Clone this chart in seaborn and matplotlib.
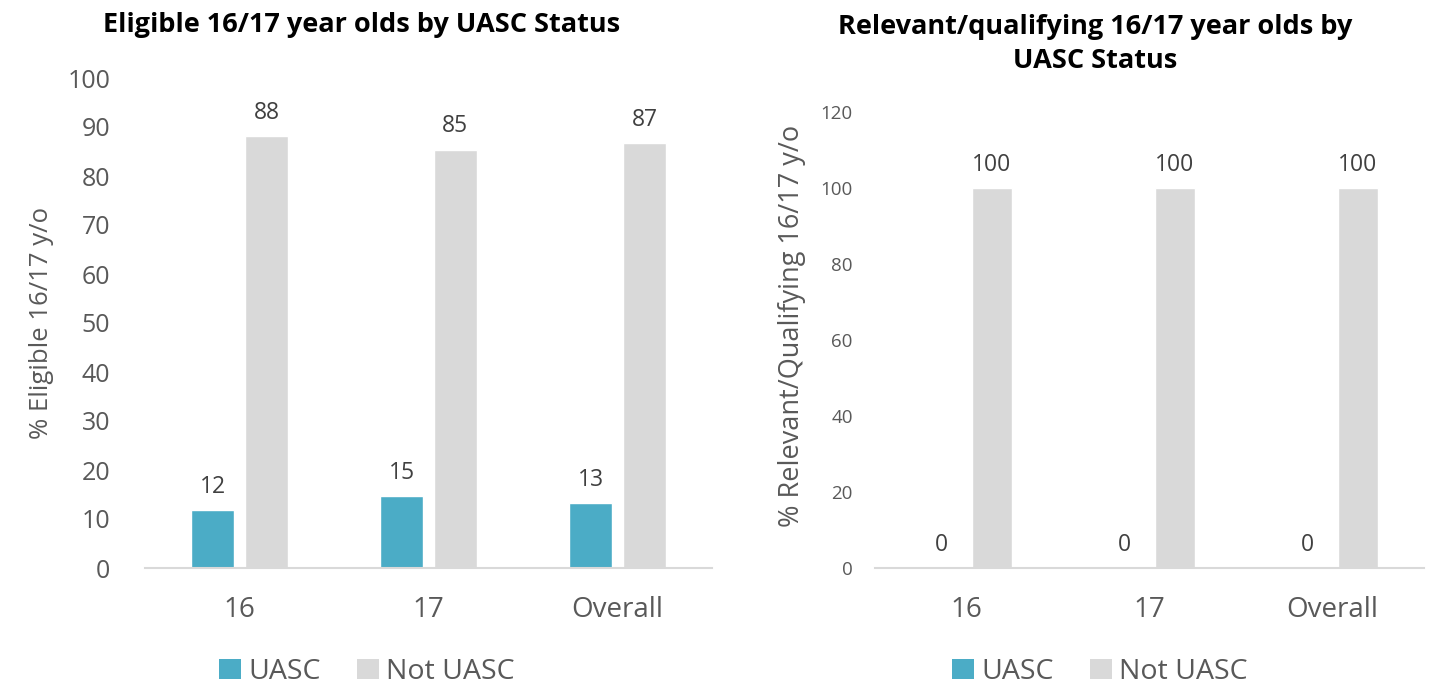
import pandas as pd
import numpy as np
import matplotlib
matplotlib.use("Agg")
import matplotlib.pyplot as plt
import seaborn as sns
from matplotlib.patches import Patch

# dados
categorias = ['16', '17', 'Overall']
grupos = ['UASC', 'Not UASC']
elegivel_uasc = [11.8, 14.6, 13.2]
elegivel_nao_uasc = [88.2, 85.4, 86.8]
relevante_uasc = [0, 0, 0]
relevante_nao_uasc = [100, 100, 100]

cores = {'UASC': '#4BACC6', 'Not UASC': '#D9D9D9'}
cinza_texto = '#595959'

sns.set_theme(style="white")
plt.rcParams['font.family'] = ['Open Sans', 'DejaVu Sans']

df_eleg = pd.DataFrame({
    'idade': categorias * 2,
    'grupo': ['UASC'] * 3 + ['Not UASC'] * 3,
    'valor': elegivel_uasc + elegivel_nao_uasc,
})
df_rel = pd.DataFrame({
    'idade': categorias * 2,
    'grupo': ['UASC'] * 3 + ['Not UASC'] * 3,
    'valor': relevante_uasc + relevante_nao_uasc,
})

fig = plt.figure(figsize=(14.37, 6.89), dpi=100)
W, H = 1437, 689
ax1 = fig.add_axes([145 / W, 121 / H, 567 / W, 490 / H])
ax2 = fig.add_axes([875 / W, 121 / H, 549 / W, 456 / H])


def desenha(ax, df, ylim, passo, ylabel, fs_ylabel, fs_tick, pad_tick, larg, gap):
    sns.barplot(data=df, x='idade', y='valor', hue='grupo', hue_order=grupos,
                palette=cores, width=larg, gap=gap, ax=ax, legend=False,
                saturation=1, errorbar=None)
    ax.set_ylim(0, ylim)
    ax.set_yticks(np.arange(0, ylim + 1, passo))
    ax.set_xlabel('')
    ax.set_ylabel(ylabel, fontsize=fs_ylabel, color=cinza_texto)
    ax.tick_params(axis='y', labelsize=fs_tick, colors=cinza_texto, length=0, pad=pad_tick)
    ax.tick_params(axis='x', labelsize=20, colors=cinza_texto, length=0, pad=20)
    for lado in ['top', 'right', 'left']:
        ax.spines[lado].set_visible(False)
    ax.spines['bottom'].set_color('#D9D9D9')
    ax.spines['bottom'].set_linewidth(1.5)
    for cont in ax.containers:
        ax.bar_label(cont, fmt='%.0f', padding=8, fontsize=16.5, color='#404040')


desenha(ax1, df_eleg, 100, 10, '% Eligible 16/17 y/o', 18.5, 18, 25, 0.57, 0.21)
desenha(ax2, df_rel, 120, 20, '% Relevant/Qualifying 16/17 y/o', 19.5, 13.5, 16, 0.55, 0.2)
ax1.yaxis.set_label_coords(-0.16, 0.5)
ax2.yaxis.set_label_coords(-0.125, 0.53)

fig.text(362 / W, 1 - 25 / H, 'Eligible 16/17 year olds by UASC Status',
         ha='center', va='center', fontsize=19.5, fontweight='bold', color='black')
fig.text(1095 / W, 1 - 44 / H, 'Relevant/qualifying 16/17 year olds by\nUASC Status',
         ha='center', va='center', fontsize=19.5, fontweight='bold', color='black',
         linespacing=1.45)

handles = [Patch(facecolor=cores[g], edgecolor='none', label=g) for g in grupos]
for cx in [367, 1100]:
    fig.legend(handles=handles, loc='center', bbox_to_anchor=(cx / W, 1 - 672 / H),
               ncol=2, frameon=False, fontsize=20.5, handlelength=0.75, handleheight=0.75,
               handletextpad=0.25, columnspacing=1.3, labelcolor=cinza_texto)

fig.savefig('out.png', dpi=100)
